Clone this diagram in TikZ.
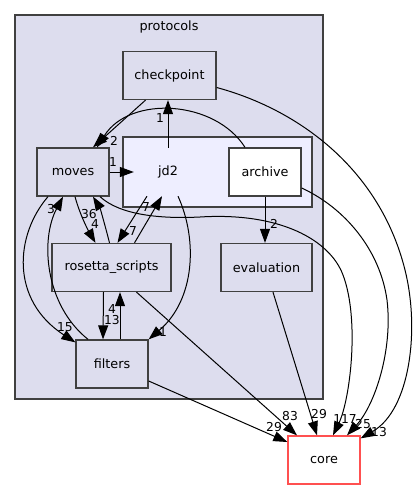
\documentclass[tikz,border=0pt]{standalone}
\usepackage{fontspec}
\setmainfont{DejaVu Sans}
\usetikzlibrary{
  arrows.meta,
  positioning
}

\definecolor{clusterfill}{HTML}{DDDDEE}
\definecolor{subfill}{HTML}{EEEEFF}
\definecolor{dirborder}{HTML}{404040}
\definecolor{corered}{HTML}{FF5050}

\tikzset{
  dir/.style = {rectangle, draw=dirborder, line width=1.3pt, fill=clusterfill,
    minimum width=72pt, minimum height=48pt, inner sep=0pt,
    font=\fontsize{12.8}{15}\selectfont},
  leaf/.style = {dir, fill=white},
  extdir/.style = {dir, draw=corered, fill=white},
  cluster/.style = {rectangle, draw=dirborder, line width=1.3pt, inner sep=0pt},
  dep/.style = {draw=black, line width=1pt, -{Triangle[length=14pt, width=10pt]}},
  num/.style = {inner sep=0pt, font=\fontsize{12.3}{14}\selectfont}
}

\begin{document}
\begin{tikzpicture}[x=1pt, y=-1pt]
    \useasboundingbox (0,0) rectangle (419,489);

    % clusters
    \node[cluster, fill=clusterfill, minimum width=308pt, minimum height=384pt] (protocols) at (169,207) {};
    \node[inner sep=0pt, font=\fontsize{12.8}{15}\selectfont] (protocolslabel) at (169,27) {protocols};
    \node[cluster, fill=subfill, minimum width=189pt, minimum height=70pt] (jd2box) at (217.5,172) {};

    % directories
    \node[dir, minimum width=93pt] (checkpoint) at (169.5,75.5) {checkpoint};
    \node[dir] (moves) at (73,172) {moves};
    \node[inner sep=0pt, minimum width=68pt, minimum height=48pt,
      font=\fontsize{12.8}{15}\selectfont] (jd2) at (168,172) {jd2};
    \node[leaf] (archive) at (265,172) {archive};
    \node[dir, minimum width=119pt] (rosetta) at (111.5,267.5) {rosetta\_scripts};
    \node[dir, minimum width=91pt] (evaluation) at (266.5,267.5) {evaluation};
    \node[dir] (filters) at (112,364) {filters};
    \node[extdir] (core) at (324,460) {core};

    % dependencies
    \draw[dep] (jd2.north) -- (jd2.north |- checkpoint.south);
    \draw[dep] ([xshift=-24pt]checkpoint.south) -- ([xshift=20pt]moves.north);
    \draw[dep] ([xshift=-20pt]archive.north) .. controls (215,100) and (130,95) .. ([xshift=24pt]moves.north);
    \draw[dep] (moves.east) -- (jd2.west);
    \draw[dep] ([xshift=-21pt]jd2.south) -- ([xshift=6pt]rosetta.north);
    \draw[dep] ([xshift=23pt]rosetta.north) -- ([xshift=-6pt]jd2.south);
    \draw[dep] ([xshift=10pt]jd2.south) .. controls (198,240) and (195,300) .. (filters.north east);
    \draw[dep] ([xshift=2pt]moves.south) .. controls (80,215) and (88,230) .. ([xshift=-16pt]rosetta.north);
    \draw[dep] ([xshift=-2pt]rosetta.north) .. controls (105,225) and (100,208) .. ([xshift=20pt]moves.south);
    \draw[dep] ([xshift=-24pt]filters.north) .. controls (45,305) and (40,240) .. ([xshift=-10pt]moves.south);
    \draw[dep] ([xshift=-25pt]moves.south) .. controls (15,235) and (10,300) .. ([yshift=-3pt]filters.north west);
    \draw[dep] ([xshift=-8pt]rosetta.south) -- ([xshift=-9pt]filters.north);
    \draw[dep] ([xshift=8pt]filters.north) -- ([xshift=8.5pt]rosetta.south);
    \draw[dep] (archive.south) -- (archive.south |- evaluation.north);
    \draw[dep] ([xshift=25pt]rosetta.south) -- ([xshift=-27pt]core.north);
    \draw[dep] ([yshift=-17pt]filters.east) -- ([yshift=18pt]core.west);
    \draw[dep] ([xshift=6.5pt]evaluation.south) -- ([xshift=-7pt]core.north);
    \draw[dep] ([xshift=27pt]moves.south) .. controls (120,215) and (160,219) .. (200,217)
      .. controls (280,212) and (330,240) .. (343,275)
      .. controls (360,320) and (350,400) .. ([xshift=9pt]core.north);
    \draw[dep] ([yshift=-16pt]archive.east) .. controls (345,208) and (380,250) .. (387,300)
      .. controls (393,350) and (375,405) .. ([xshift=23pt]core.north);
    \draw[dep] ([yshift=-12pt]checkpoint.east) .. controls (300,110) and (380,170) .. (405,270)
      .. controls (420,330) and (410,410) .. ([yshift=-3pt]core.north east);

    % counts
    \node[num] (n-jd2-checkpoint) at (160,118) {1};
    \node[num] (n-to-moves) at (114,141) {2};
    \node[num] (n-moves-jd2) at (113,162) {1};
    \node[num] (n-filters-moves) at (51,209) {3};
    \node[num] (n-moves-rosetta) at (89,214) {36};
    \node[num] (n-rosetta-moves) at (95,224) {4};
    \node[num] (n-rosetta-jd2) at (146,207) {7};
    \node[num] (n-jd2-rosetta) at (133,231) {7};
    \node[num] (n-jd2-filters) at (163,332) {1};
    \node[num] (n-moves-filters) at (65,327) {15};
    \node[num] (n-filters-rosetta) at (112,309) {4};
    \node[num] (n-rosetta-filters) at (112,320) {13};
    \node[num] (n-archive-evaluation) at (274,224) {2};
    \node[num] (n-filters-core) at (274,427) {29};
    \node[num] (n-rosetta-core) at (290,416) {83};
    \node[num] (n-evaluation-core) at (319,414) {29};
    \node[num] (n-moves-core) at (345,419) {117};
    \node[num] (n-archive-core) at (363,424) {25};
    \node[num] (n-checkpoint-core) at (379,432) {13};
\end{tikzpicture}
\end{document}
